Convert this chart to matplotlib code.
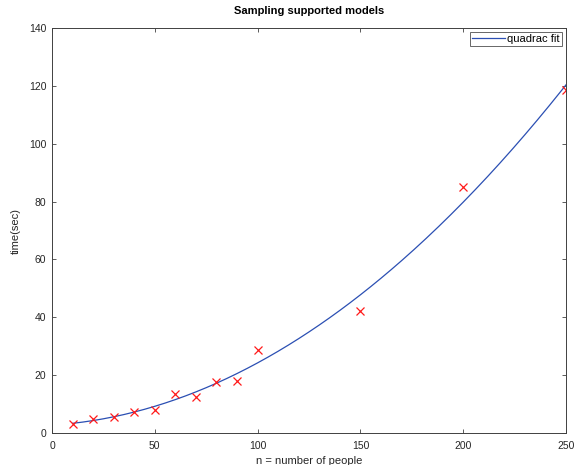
import numpy as np
import matplotlib
matplotlib.use("Agg")
import matplotlib.pyplot as plt

plt.rcParams['font.family'] = ['Liberation Sans', 'DejaVu Sans']

# measured samples
n_people = [10, 20, 30, 40, 50, 60, 70, 80, 90, 100, 150, 200, 250]
time_sec = [3.0, 5.0, 5.7, 7.3, 8.0, 13.6, 12.3, 17.8, 18.1, 28.7, 42.3, 85.0, 118.6]

# quadratic fit of the samples
coef = np.polyfit(n_people, time_sec, 2)
xf = np.arange(10, 251)
yf = np.polyval(coef, xf)

fig = plt.figure(figsize=(5.76, 4.65), dpi=100)
ax = fig.add_axes([52 / 576, 1 - 433 / 465, 514 / 576, 405 / 465])

ax.plot(xf, yf, color='#2b4fb3', lw=0.9, label='quadrac fit')
ax.plot(n_people, time_sec, 'x', color='#ff1a1a', ms=6, mew=0.9)

ax.set_xlim(0, 250)
ax.set_ylim(0, 140)
ax.set_xticks([0, 50, 100, 150, 200, 250])
ax.set_yticks([0, 20, 40, 60, 80, 100, 120, 140])
ax.tick_params(direction='in', top=True, right=True, labelsize=7.5, length=3, width=0.6,
               colors='#404040', labelcolor='#262626')
ax.tick_params(axis='x', pad=6)
ax.tick_params(axis='y', pad=4)
for s in ax.spines.values():
    s.set_linewidth(0.7)
    s.set_color('#404040')

ax.set_title('Sampling supported models', fontsize=8, fontweight='bold', pad=10)
ax.set_xlabel('n = number of people', fontsize=8, labelpad=3, color='#262626')
ax.set_ylabel('time(sec)', fontsize=8, labelpad=6, color='#262626')

leg = ax.legend(loc='upper right', fontsize=8, frameon=True, fancybox=False,
                borderaxespad=0.35, handlelength=3.0, borderpad=0.2, handletextpad=0.2)
leg.get_frame().set_edgecolor('#404040')
leg.get_frame().set_linewidth(0.7)

fig.savefig('out.png', dpi=100)
